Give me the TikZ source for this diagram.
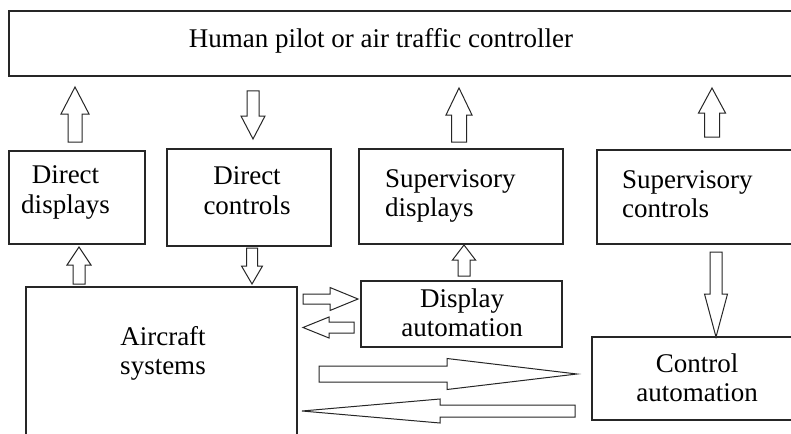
\documentclass[tikz,border=0pt]{standalone}
\usepackage{fontspec}
\setmainfont{Liberation Serif}
\usetikzlibrary{calc}
\newcommand\twolc[2]{\begin{tabular}[t]{@{}c@{}}#1\\#2\end{tabular}}
\newcommand\twoll[2]{\begin{tabular}[t]{@{}l@{}}#1\\#2\end{tabular}}
\newcommand\blockarr[5]{%
  \coordinate (#1-h) at ($(#2)!#5!(#1)$);
  \draw[barrow] ($(#1)!#3!90:(#2)$) -- ($(#1-h)!#3!90:(#2)$) -- ($(#1-h)!#4!90:(#2)$) -- (#2)
    -- ($(#1-h)!#4!-90:(#2)$) -- ($(#1-h)!#3!-90:(#2)$) -- ($(#1)!#3!-90:(#2)$) -- cycle;}
\begin{document}
\begin{tikzpicture}[x=1pt,y=-1pt,
  box/.style={draw=black!85, line width=1.2pt, rectangle, inner sep=0pt, outer sep=0pt},
  lbl/.style={inner sep=0pt, font=\fontsize{27}{29.5}\selectfont, text=black},
  barrow/.style={draw=black!85, line width=1pt, fill=white}]
\useasboundingbox (0,0) rectangle (791,433);
\clip (0,0) rectangle (791,433);
\fill[white] (0,0) rectangle (791,433);
\renewcommand\arraystretch{1}
% boxes
\node[box, minimum width=801pt, minimum height=65pt] (top) at (409.5,43.5) {};
\node[box, minimum width=136pt, minimum height=93pt] (dd) at (77,197.5) {};
\node[box, minimum width=164pt, minimum height=97pt] (dc) at (249,197.5) {};
\node[box, minimum width=204pt, minimum height=95pt] (sd) at (461,196.5) {};
\node[box, minimum width=213pt, minimum height=94pt] (sc) at (703.5,197) {};
\node[box, minimum width=271pt, minimum height=163pt] (as) at (161.5,368.5) {};
\node[box, minimum width=201pt, minimum height=66pt] (da) at (461.5,314) {};
\node[box, minimum width=218pt, minimum height=83pt] (ca) at (701,378.5) {};
% labels
\node[lbl, anchor=base] (topt) at (381,48) {Human pilot or air traffic controller};
\node[lbl, anchor=base] (ddt) at (65.5,183.5) {\twolc{Direct}{displays}};
\node[lbl, anchor=base] (dct) at (247,184.5) {\twolc{Direct}{controls}};
\node[lbl, anchor=base west] (sdt) at (385,187) {\twoll{Supervisory}{displays}};
\node[lbl, anchor=base west] (sct) at (622,188) {\twoll{Supervisory}{controls}};
\node[lbl, anchor=base] (ast) at (163,345) {\twolc{Aircraft}{systems}};
\node[lbl, anchor=base] (dat) at (462,307) {\twolc{Display}{automation}};
\node[lbl, anchor=base] (cat) at (697,372) {\twolc{Control}{automation}};
% arrow end points
\coordinate (a1) at (75,142);   \coordinate (a1e) at (75,87);
\coordinate (a2) at (253,91);   \coordinate (a2e) at (253,139);
\coordinate (a3) at (459,142);  \coordinate (a3e) at (459,88);
\coordinate (a4) at (712,137);  \coordinate (a4e) at (712,88);
\coordinate (a5) at (79,284);   \coordinate (a5e) at (79,247);
\coordinate (a6) at (252,248);  \coordinate (a6e) at (252,284);
\coordinate (a7) at (464,276);  \coordinate (a7e) at (464,245);
\coordinate (a8) at (303,299);  \coordinate (a8e) at (358,299);
\coordinate (a9) at (354,327.5);\coordinate (a9e) at (303,327.5);
\coordinate (a10) at (716,252); \coordinate (a10e) at (716,337);
\coordinate (a11) at (319,374); \coordinate (a11e) at (577,374);
\coordinate (a12) at (575,411); \coordinate (a12e) at (302,411);
% block arrows
\blockarr{a1}{a1e}{7pt}{14pt}{27pt}
\blockarr{a2}{a2e}{6pt}{12pt}{23pt}
\blockarr{a3}{a3e}{7.5pt}{13pt}{27pt}
\blockarr{a4}{a4e}{7.5pt}{13.5pt}{25pt}
\blockarr{a5}{a5e}{6pt}{12pt}{18pt}
\blockarr{a6}{a6e}{5.5pt}{10.5pt}{18pt}
\blockarr{a7}{a7e}{6pt}{11.5pt}{15pt}
\blockarr{a8}{a8e}{5pt}{11.5pt}{28pt}
\blockarr{a9}{a9e}{5.5pt}{10.5pt}{26pt}
\blockarr{a10}{a10e}{6pt}{11.5pt}{43pt}
\blockarr{a11}{a11e}{8pt}{15.5pt}{130pt}
\blockarr{a12}{a12e}{6pt}{12pt}{138pt}
\end{tikzpicture}
\end{document}
